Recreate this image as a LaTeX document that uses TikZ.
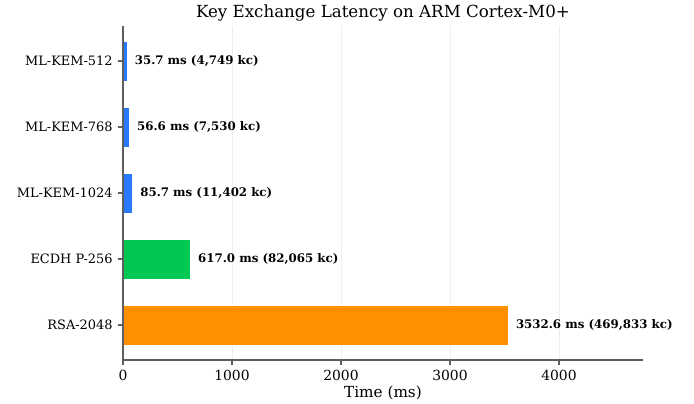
\documentclass[tikz,border=0pt]{standalone}
\usepackage{fontspec}
\setmainfont{DejaVu Serif}
\usetikzlibrary{positioning}

\definecolor{kemblue}{HTML}{2979FF}
\definecolor{ecdhgreen}{HTML}{00C853}
\definecolor{rsaorange}{HTML}{FF9100}
\definecolor{gridgray}{HTML}{EEEEEE}
\definecolor{spinegray}{HTML}{5E5E5E}

\tikzset{
	bar/.style={draw=white, line width=0.4pt},
	vallabel/.style={anchor=west, inner sep=0pt, font=\bfseries\fontsize{8.5}{10}\selectfont},
	ylab/.style={anchor=east, inner sep=0pt, font=\fontsize{9.3}{11}\selectfont},
	xlab/.style={anchor=north, inner sep=0pt, font=\fontsize{10}{12}\selectfont},
	gridline/.style={draw=gridgray, line width=0.6pt},
	spine/.style={draw=spinegray, line width=1pt},
}

\begin{document}
\begin{tikzpicture}[x=0.07848pt, y=47.52pt]

		%page size
		\useasboundingbox (-88.56pt,-56.88pt) rectangle (411.12pt,234pt);

		%axes corners
		\coordinate (origin) at (0,-0.53);
		\coordinate (ytop) at (0,4.53);
		\coordinate (xend) at (4770,-0.53);

		%vertical grid
		\draw[gridline] (1000,-0.53) -- (1000,4.53);
		\draw[gridline] (2000,-0.53) -- (2000,4.53);
		\draw[gridline] (3000,-0.53) -- (3000,4.53);
		\draw[gridline] (4000,-0.53) -- (4000,4.53);

		%bars
		\filldraw[bar, fill=kemblue] (0,3.7) rectangle (35.7,4.3);
		\filldraw[bar, fill=kemblue] (0,2.7) rectangle (56.6,3.3);
		\filldraw[bar, fill=kemblue] (0,1.7) rectangle (85.7,2.3);
		\filldraw[bar, fill=ecdhgreen] (0,0.7) rectangle (617.0,1.3);
		\filldraw[bar, fill=rsaorange] (0,-0.3) rectangle (3532.6,0.3);

		%value labels
		\node[vallabel] (v512) at (35.7+70.65,4) {35.7 ms (4,749 kc)};
		\node[vallabel] (v768) at (56.6+70.65,3) {56.6 ms (7,530 kc)};
		\node[vallabel] (v1024) at (85.7+70.65,2) {85.7 ms (11,402 kc)};
		\node[vallabel] (vecdh) at (617.0+70.65,1) {617.0 ms (82,065 kc)};
		\node[vallabel] (vrsa) at (3532.6+70.65,0) {3532.6 ms (469,833 kc)};

		%spines
		\draw[spine] (ytop) -- (origin) -- (xend);

		%y ticks
		\draw[spine] (0,4) -- ++(-3.5pt,0) node[ylab, left=3.5pt] (y512) {ML-KEM-512};
		\draw[spine] (0,3) -- ++(-3.5pt,0) node[ylab, left=3.5pt] (y768) {ML-KEM-768};
		\draw[spine] (0,2) -- ++(-3.5pt,0) node[ylab, left=3.5pt] (y1024) {ML-KEM-1024};
		\draw[spine] (0,1) -- ++(-3.5pt,0) node[ylab, left=3.5pt] (yecdh) {ECDH P-256};
		\draw[spine] (0,0) -- ++(-3.5pt,0) node[ylab, left=3.5pt] (yrsa) {RSA-2048};

		%x ticks
		\draw[spine] (0,-0.53) -- ++(0,-3.5pt) node[xlab, below=3.5pt] (x0) {0};
		\draw[spine] (1000,-0.53) -- ++(0,-3.5pt) node[xlab, below=3.5pt] (x1000) {1000};
		\draw[spine] (2000,-0.53) -- ++(0,-3.5pt) node[xlab, below=3.5pt] (x2000) {2000};
		\draw[spine] (3000,-0.53) -- ++(0,-3.5pt) node[xlab, below=3.5pt] (x3000) {3000};
		\draw[spine] (4000,-0.53) -- ++(0,-3.5pt) node[xlab, below=3.5pt] (x4000) {4000};

		%axis label and title
		\node[font=\fontsize{11}{13}\selectfont, inner sep=0pt] (xtitle) at (2385,-1.03) {Time (ms)};
		\node[font=\fontsize{12}{14}\selectfont, inner sep=0pt] (title) at (2385,4.73) {Key Exchange Latency on ARM Cortex-M0+};

	\end{tikzpicture}
\end{document}
